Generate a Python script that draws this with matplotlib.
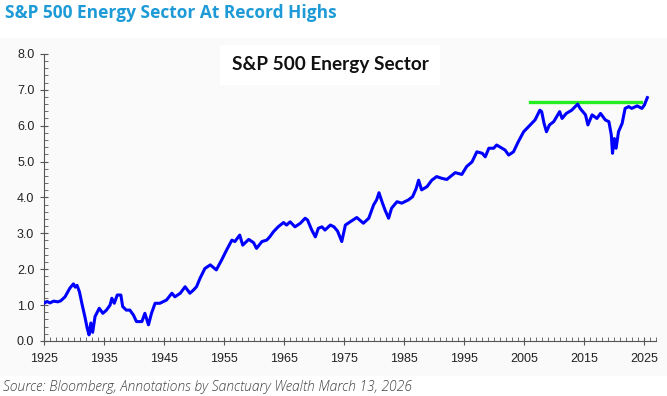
import matplotlib
matplotlib.use("Agg")
import matplotlib.pyplot as plt
from matplotlib.patches import Rectangle
from matplotlib.ticker import MultipleLocator

# S&P 500 Energy Sector
years = [
    1925.0, 1925.5, 1926.0, 1926.6, 1927.3, 1927.8, 1928.5, 1929.3, 1929.9, 1930.2,
    1930.5, 1930.9, 1931.3, 1931.8, 1932.2, 1932.5, 1932.8, 1933.1, 1933.5, 1934.2,
    1934.8, 1935.4, 1936.0, 1936.3, 1936.7, 1937.2, 1937.8, 1938.1, 1938.7, 1939.3,
    1939.9, 1940.4, 1941.3, 1941.8, 1942.4, 1942.9, 1943.5, 1944.3, 1945.4, 1946.3,
    1946.8, 1947.7, 1948.5, 1949.3, 1949.9, 1950.4, 1951.0, 1951.8, 1952.7, 1953.7,
    1954.6, 1955.4, 1956.3, 1956.8, 1957.6, 1958.1, 1959.1, 1959.9, 1960.4, 1961.3,
    1962.1, 1962.6, 1963.2, 1964.0, 1964.9, 1965.4, 1966.0, 1966.8, 1967.7, 1968.5,
    1968.9, 1969.6, 1970.2, 1970.7, 1971.3, 1971.8, 1972.7, 1973.3, 1973.9, 1974.6,
    1975.2, 1976.0, 1977.1, 1978.2, 1979.1, 1979.9, 1980.4, 1980.8, 1981.3, 1981.8,
    1982.4, 1982.9, 1983.8, 1984.6, 1985.7, 1986.4, 1987.0, 1987.4, 1987.9, 1988.8,
    1989.6, 1990.4, 1991.3, 1992.1, 1993.0, 1993.5, 1994.6, 1995.4, 1996.3, 1997.1,
    1998.0, 1998.5, 1999.1, 1999.9, 2000.4, 2001.3, 2001.8, 2002.4, 2003.2, 2004.0,
    2004.9, 2006.0, 2006.8, 2007.6, 2007.9, 2008.3, 2008.7, 2009.2, 2009.9, 2010.4,
    2010.9, 2011.3, 2012.0, 2012.9, 2013.9, 2014.3, 2015.2, 2015.6, 2016.3, 2017.1,
    2017.7, 2018.5, 2019.1, 2019.5, 2019.7, 2020.0, 2020.3, 2020.7, 2021.3, 2021.8,
    2022.4, 2022.9, 2023.8, 2024.6, 2025.0, 2025.5,
]
values = [
    1.05, 1.10, 1.06, 1.11, 1.09, 1.12, 1.23, 1.47, 1.59, 1.50,
    1.55, 1.37, 1.05, 0.68, 0.35, 0.17, 0.50, 0.24, 0.68, 0.91,
    0.77, 0.86, 1.00, 1.19, 1.05, 1.28, 1.28, 0.96, 0.86, 0.86,
    0.72, 0.54, 0.54, 0.77, 0.45, 0.77, 1.05, 1.05, 1.14, 1.33,
    1.23, 1.33, 1.51, 1.33, 1.42, 1.51, 1.75, 2.02, 2.12, 1.98,
    2.26, 2.53, 2.81, 2.77, 2.95, 2.67, 2.83, 2.74, 2.58, 2.77,
    2.81, 2.90, 3.04, 3.18, 3.30, 3.23, 3.32, 3.18, 3.28, 3.42,
    3.37, 3.09, 2.90, 3.14, 3.18, 3.09, 3.23, 3.18, 3.06, 2.77,
    3.23, 3.32, 3.44, 3.28, 3.42, 3.79, 3.93, 4.13, 3.88, 3.65,
    3.42, 3.70, 3.88, 3.84, 3.93, 4.02, 4.25, 4.48, 4.21, 4.30,
    4.48, 4.58, 4.53, 4.50, 4.62, 4.69, 4.64, 4.86, 4.99, 5.27,
    5.23, 5.13, 5.37, 5.37, 5.46, 5.37, 5.32, 5.18, 5.27, 5.55,
    5.83, 6.02, 6.16, 6.43, 6.39, 6.06, 5.83, 6.02, 6.11, 6.25,
    6.39, 6.20, 6.34, 6.43, 6.60, 6.48, 6.30, 6.02, 6.30, 6.20,
    6.34, 6.16, 6.11, 5.74, 5.23, 5.64, 5.37, 5.83, 6.06, 6.48,
    6.53, 6.48, 6.55, 6.48, 6.57, 6.78,
]

# green "record high" line
record_years = [2006.0, 2024.5]
record_level = [6.66, 6.66]

decade_ticks = [1925, 1935, 1945, 1955, 1965, 1975, 1985, 1995, 2005, 2015, 2025]
y_ticks = [0, 1, 2, 3, 4, 5, 6, 7, 8]

fig = plt.figure(figsize=(6.67, 3.96), dpi=100)
fig.patch.set_facecolor("white")

# faint grey panel behind the chart
panel = Rectangle((0, 0.05), 1, 0.855, transform=fig.transFigure,
                  facecolor="#fafafa", edgecolor="none", zorder=-10)
fig.patches.append(panel)

ax = fig.add_axes([0.066, 0.139, 0.918, 0.725])
ax.set_facecolor("none")
ax.set_zorder(1)

ax.plot(years, values, color="#0000ff", linewidth=2.2, zorder=3)
ax.plot(record_years, record_level, color="#22ee22", linewidth=2.4, zorder=2)

ax.set_xlim(1925, 2027)
ax.set_ylim(0, 8)
ax.set_xticks(decade_ticks)
ax.set_xticklabels([str(t) for t in decade_ticks])
ax.set_yticks(y_ticks)
ax.set_yticklabels([f"{t:.1f}" for t in y_ticks])
ax.xaxis.set_minor_locator(MultipleLocator(1))
ax.yaxis.set_minor_locator(MultipleLocator(0.2))

for side in ["top", "right"]:
    ax.spines[side].set_visible(False)
for side in ["left", "bottom"]:
    ax.spines[side].set_color("#555555")
    ax.spines[side].set_linewidth(0.8)

ax.tick_params(which="major", direction="inout", length=6, width=0.8, color="#555555",
               labelsize=9, labelcolor="#222222")
ax.tick_params(which="minor", direction="in", length=3, width=0.6, color="#555555")
ax.tick_params(axis="x", which="major", pad=6)
ax.tick_params(axis="y", which="major", pad=4)
for lab in ax.get_xticklabels() + ax.get_yticklabels():
    lab.set_family("Liberation Sans")

fig.text(0.0075, 0.968, "S&P 500 Energy Sector At Record Highs", ha="left", va="center",
         fontsize=12.5, fontweight="bold", color="#1e9bd7", family="Open Sans")

fig.text(0.495, 0.836, "S&P 500 Energy Sector", ha="center", va="center",
         fontsize=13.7, fontweight="bold", color="#111111", family="Lato", zorder=5,
         bbox=dict(boxstyle="square,pad=0.6", facecolor="white", edgecolor="none"))

fig.text(0.005, 0.022, "Source: Bloomberg, Annotations by Sanctuary Wealth March 13, 2026",
         ha="left", va="center", fontsize=10, style="italic", color="#444444",
         family="Open Sans", fontweight="light")

fig.savefig("out.png", dpi=100)
